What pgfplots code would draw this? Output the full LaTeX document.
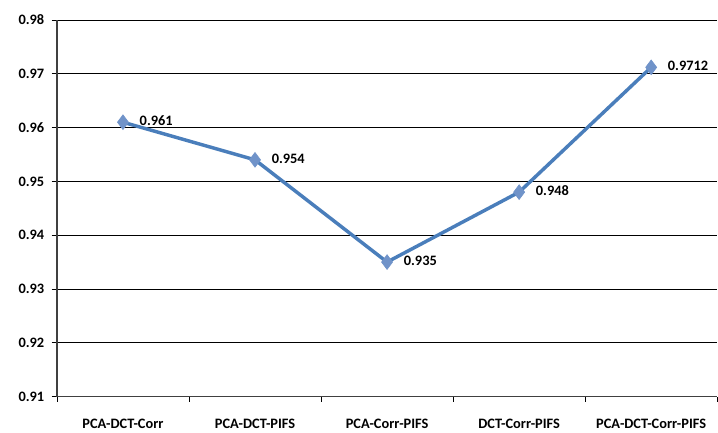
\documentclass[border=0pt]{standalone}
\usepackage{pgfplots}
\pgfplotsset{compat=1.18}
\usepackage{fontspec}
\setmainfont{Carlito}
\definecolor{lineblue}{HTML}{4A7EBB}
\definecolor{markblue}{HTML}{7093C9}
\begin{document}
\begin{tikzpicture}[x=0.75pt,y=0.75pt]
\path (-57,-34) rectangle (661,397);
\begin{axis}[
    at={(0,0)}, anchor=south west,
    scale only axis,
    width=495.75pt, height=282.75pt,
    xmin=-0.5, xmax=4.5,
    ymin=0.91, ymax=0.98,
    ytick={0.91,0.92,...,0.98},
    xtick={0,...,4},
    xticklabels={PCA-DCT-Corr,PCA-DCT-PIFS,PCA-Corr-PIFS,DCT-Corr-PIFS,PCA-DCT-Corr-PIFS},
    minor xtick={-0.5,0.5,...,4.5},
    major x tick style={draw=none},
    minor x tick style={black, line width=0.6pt},
    ymajorgrids,
    grid style={black, line width=0.6pt},
    axis x line=bottom, axis y line=left,
    axis line style={-, line width=1.2pt, black!75},
    tick align=outside,
    major tick length=4pt, minor tick length=4pt,
    y tick style={black, line width=0.6pt},
    yticklabel={\pgfmathprintnumber[fixed, fixed zerofill, precision=2]{\tick}},
    /pgf/number format/assume math mode=true,
    tick label style={font=\bfseries\fontsize{10.8}{12}\selectfont},
    xticklabel style={yshift=-9pt},
    yticklabel style={xshift=-2pt},
    clip=false,
]
\addplot[color=lineblue, line width=2.6pt, mark=diamond*, mark size=5.5pt,
    mark options={fill=markblue, draw=markblue, line width=0.5pt},
    nodes near coords,
    point meta=explicit symbolic,
    every node near coord/.append style={anchor=west, xshift=9pt, yshift=1pt, font=\bfseries\fontsize{10.8}{12}\selectfont, black}]
  coordinates {(0,0.961)[0.961] (1,0.954)[0.954] (2,0.935)[0.935] (3,0.948)[0.948] (4,0.9712)[0.9712]};
\end{axis}
\end{tikzpicture}
\end{document}
